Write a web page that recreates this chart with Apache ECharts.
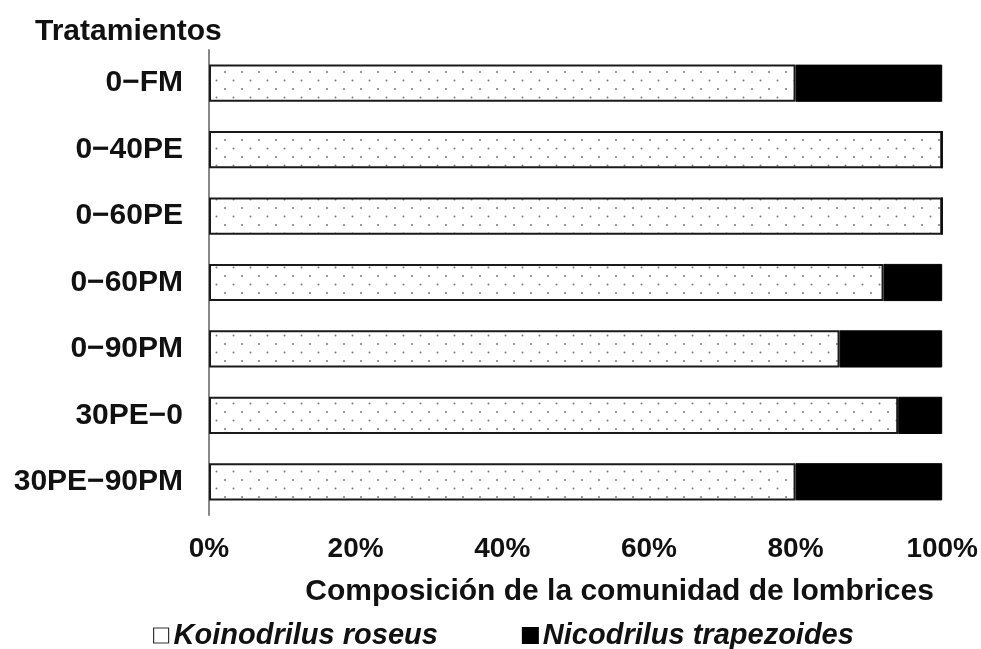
<!DOCTYPE html>
<html>
<head>
<meta charset="utf-8">
<script src="https://cdn.jsdelivr.net/npm/echarts@6/dist/echarts.min.js"></script>
<style>
html,body{margin:0;padding:0;background:#fff;}
#chart{width:981px;height:649px;}
</style>
</head>
<body>
<div id="chart"></div>
<script>
const categories = ['0\u2212FM','0\u221240PE','0\u221260PE','0\u221260PM','0\u221290PM','30PE\u22120','30PE\u221290PM'];
const roseus = [80, 100, 100, 92, 86, 94, 80];
const trapezoides = [20, 0, 0, 8, 14, 6, 20];
const xTicks = [0, 20, 40, 60, 80, 100];
const seriesNames = ['Koinodrilus roseus', 'Nicodrilus trapezoides'];

const FONT = "'Liberation Sans', Arial, sans-serif";

// dotted fill pattern
const pc = document.createElement('canvas');
pc.width = 17; pc.height = 17;
const ctx = pc.getContext('2d');
ctx.fillStyle = '#ffffff';
ctx.fillRect(0, 0, 17, 17);
ctx.fillStyle = '#7a7a7a';
[[4,4],[12.5,12.5]].forEach(p => { ctx.beginPath(); ctx.arc(p[0], p[1], 1, 0, Math.PI*2); ctx.fill(); });

const chart = echarts.init(document.getElementById('chart'), null, {renderer: 'canvas'});
chart.setOption({
  animation: false,
  backgroundColor: '#fff',
  title: {
    text: 'Tratamientos',
    left: 30, top: 12,
    textStyle: {fontFamily: FONT, fontWeight: 'bold', fontSize: 30, color: '#111'}
  },
  grid: {left: 209, right: 36, top: 50, bottom: 134},
  legend: {
    top: 616, left: 148,
    itemWidth: 15, itemHeight: 15, itemGap: 84,
    icon: 'rect',
    textStyle: {fontFamily: FONT, fontWeight: 'bold', fontStyle: 'italic', fontSize: 29, color: '#111', padding: [0,0,0,0]},
    data: [
      {name: seriesNames[0], itemStyle: {color: '#fff', borderColor: '#333', borderWidth: 1.2}},
      {name: seriesNames[1], itemStyle: {color: '#000'}}
    ]
  },
  xAxis: {
    type: 'value', min: 0, max: 100, interval: 20,
    name: 'Composición de la comunidad de lombrices',
    nameLocation: 'middle', nameGap: 62,
    nameTextStyle: {fontFamily: FONT, fontWeight: 'bold', fontSize: 30, color: '#111', padding: [0,0,0,88]},
    axisLine: {show: false}, axisTick: {show: false}, splitLine: {show: false},
    axisLabel: {
      margin: 20, fontFamily: FONT, fontWeight: 'bold', fontSize: 28, color: '#111',
      formatter: v => xTicks.includes(v) ? v + '%' : ''
    }
  },
  yAxis: {
    type: 'category', data: categories, inverse: true,
    axisLine: {show: true, lineStyle: {color: '#888', width: 2}},
    axisTick: {show: false},
    axisLabel: {margin: 26, fontFamily: FONT, fontWeight: 'bold', fontSize: 30, color: '#111'}
  },
  series: [
    {
      name: seriesNames[0], type: 'bar', stack: 'total', data: roseus, barWidth: '56%',
      itemStyle: {color: {image: pc, repeat: 'repeat'}, borderColor: '#1a1a1a', borderWidth: 2}
    },
    {
      name: seriesNames[1], type: 'bar', stack: 'total', data: trapezoides, barWidth: '56%',
      itemStyle: {color: '#000', borderColor: '#000', borderWidth: 1}
    }
  ]
});
</script>
</body>
</html>
